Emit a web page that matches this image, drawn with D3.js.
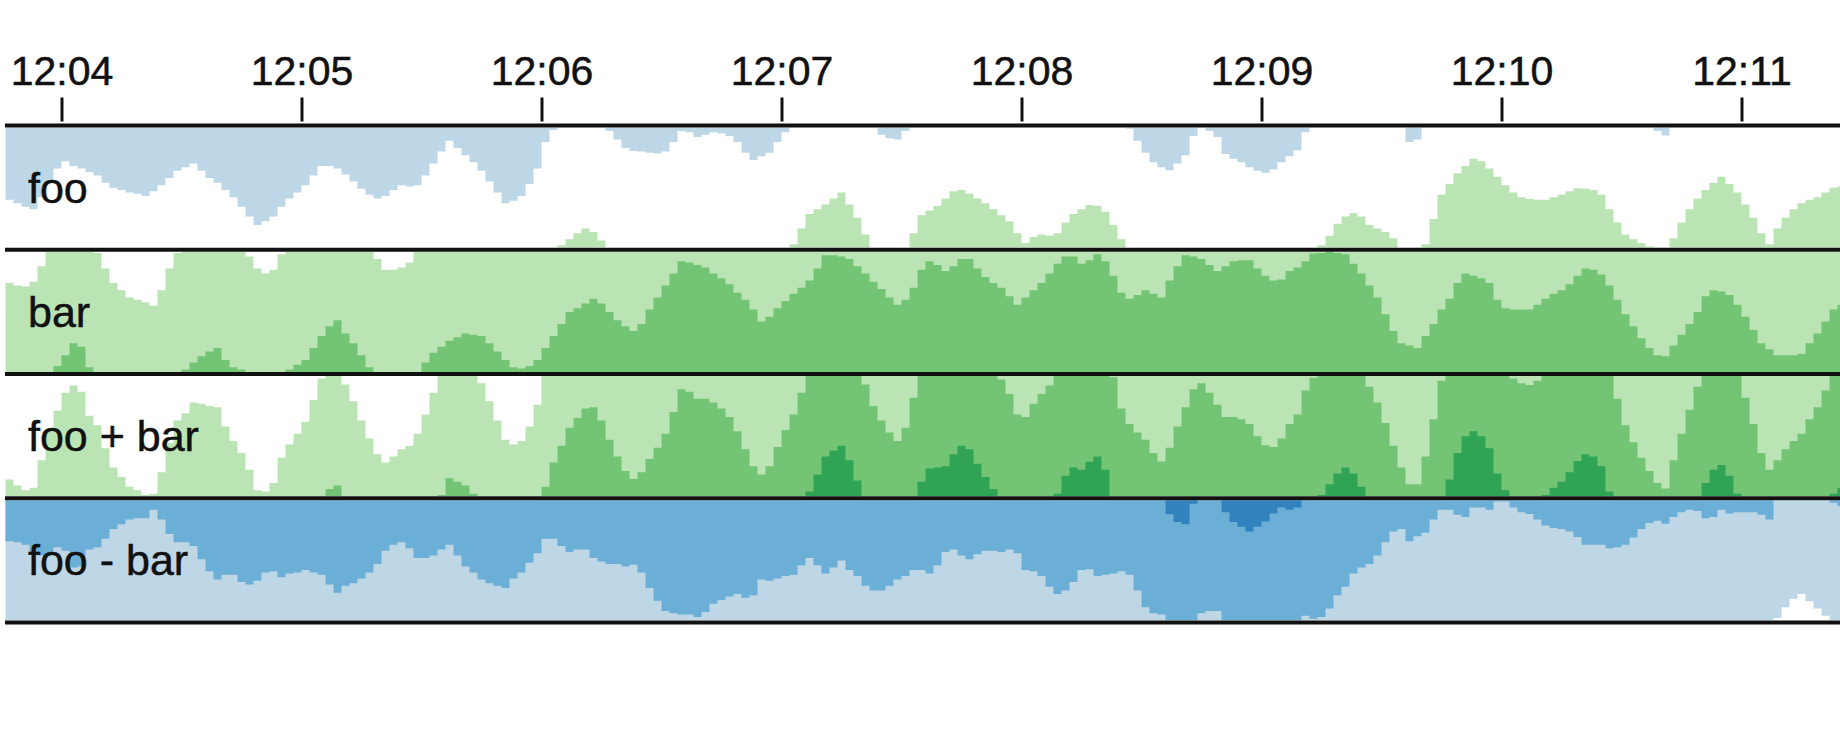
<!DOCTYPE html>
<html><head><meta charset="utf-8">
<script src="https://cdn.jsdelivr.net/npm/d3@7"></script>
<style>
html,body{margin:0;padding:0;background:#fff;}
svg{display:block;}
text{font-family:"Liberation Sans", Arial, Helvetica, sans-serif;}
</style></head><body>
<svg id="chart" width="1840" height="740"></svg>
<script>
// ---- data ----
const startTime = "12:03:46";
const stepSeconds = 2;
const foo = [
 -3.0,-3.15,-3.3,-3.4,-2.9,-2.3,-1.7,-1.4,-1.6,-1.7,
 -1.85,-2.0,-2.3,-2.5,-2.6,-2.7,-2.75,-2.85,-2.65,-2.4,
 -2.1,-1.8,-1.65,-1.5,-1.8,-2.1,-2.3,-2.6,-2.9,-3.3,
 -3.7,-4.05,-3.9,-3.7,-3.3,-2.95,-2.7,-2.4,-2.0,-1.6,
 -1.6,-1.7,-1.95,-2.25,-2.55,-2.8,-2.95,-2.85,-2.6,-2.4,
 -2.45,-2.4,-2.0,-1.5,-1.0,-0.55,-0.85,-1.15,-1.45,-1.8,
 -2.25,-2.7,-3.15,-3.05,-2.85,-2.35,-1.7,-0.6,-0.1,0.1,
 0.35,0.6,0.8,0.65,0.3,-0.15,-0.5,-0.85,-0.98,-1.0,
 -1.05,-1.08,-1.0,-0.6,-0.15,-0.2,-0.4,-0.3,-0.2,-0.25,
 -0.35,-0.6,-1.05,-1.35,-1.2,-1.05,-0.6,-0.2,0.15,0.8,
 1.4,1.6,1.8,2.05,2.3,1.8,1.25,0.55,0.0,-0.3,
 -0.45,-0.5,-0.15,0.6,1.35,1.55,1.75,2.05,2.35,2.4,
 2.25,2.05,1.85,1.6,1.35,1.1,0.6,0.2,0.45,0.55,
 0.5,0.6,1.05,1.4,1.6,1.78,1.75,1.5,0.95,0.35,
 -0.05,-0.55,-1.05,-1.45,-1.65,-1.78,-1.5,-1.15,-0.35,0,
 -0.15,-0.4,-1.1,-1.3,-1.45,-1.65,-1.8,-1.88,-1.75,-1.45,
 -1.2,-0.95,-0.2,0,0.1,0.5,1.0,1.3,1.45,1.3,
 0.95,0.8,0.65,0.4,0,-0.6,-0.5,0.15,1.2,2.2,
 2.65,3.1,3.4,3.7,3.6,3.3,2.95,2.6,2.3,2.1,
 2.03,2.0,2.0,2.1,2.2,2.35,2.47,2.45,2.4,2.2,
 1.6,1.05,0.55,0.35,0.2,0.05,-0.15,-0.33,0.4,1.05,
 1.6,2.05,2.4,2.7,2.95,2.65,2.3,1.8,1.25,0.6,
 0.15,0.8,1.25,1.6,1.85,2.0,2.1,2.3,2.5,2.55
];
const bar = [
 3.7,3.6,3.55,3.75,4.4,5.0,5.25,5.7,6.2,6.05,
 5.2,4.95,4.3,3.7,3.4,3.1,3.0,2.9,2.75,3.4,
 4.3,4.95,5.1,5.4,5.65,5.85,6.0,5.5,5.2,5.1,
 4.8,4.3,4.1,4.25,4.9,5.1,5.3,5.5,6.0,6.5,
 6.9,7.15,6.6,6.2,5.7,5.2,4.7,4.25,4.25,4.35,
 4.55,5.0,5.4,5.8,6.05,6.3,6.45,6.6,6.55,6.5,
 6.2,5.85,5.5,5.2,5.15,5.25,5.5,6.0,6.5,7.0,
 7.5,7.65,7.85,8.05,7.85,7.5,7.15,6.9,6.7,7.0,
 7.6,8.1,8.6,9.1,9.6,9.55,9.45,9.35,9.1,8.9,
 8.65,8.3,8.0,7.6,7.1,7.3,7.65,7.95,8.25,8.5,
 8.8,9.3,9.85,9.85,9.8,9.7,9.4,9.1,8.75,8.45,
 8.1,7.8,8.0,8.5,9.25,9.6,9.45,9.2,9.4,9.7,
 9.7,9.3,8.95,8.7,8.5,8.15,7.8,8.1,8.4,8.7,
 9.1,9.5,9.8,9.8,9.5,9.65,9.9,9.6,9.0,8.3,
 8.05,8.2,8.4,8.25,8.1,8.8,9.4,9.85,9.8,9.7,
 9.45,9.2,9.4,9.6,9.65,9.65,9.3,9.0,8.8,8.85,
 9.2,9.35,9.6,9.93,9.95,10.0,9.95,9.9,9.5,9.1,
 8.6,8.1,7.4,6.7,6.2,6.1,6.0,6.5,7.0,7.6,
 8.05,8.7,9.1,9.0,8.9,8.7,8.0,7.65,7.6,7.6,
 7.6,7.8,8.05,8.25,8.4,8.65,9.0,9.3,9.25,9.05,
 8.6,8.0,7.4,6.9,6.4,6.0,5.7,5.65,6.1,6.55,
 7.0,7.5,8.15,8.4,8.35,8.2,7.8,7.3,6.75,6.2,
 5.95,5.7,5.7,5.7,5.75,6.2,6.6,7.1,7.6,7.8
];
const rowLabels = ["foo", "bar", "foo + bar", "foo - bar"];
const extent = [-20, 20];
const negColors = ["#bdd7e7", "#6baed6", "#3182bd", "#08519c"];
const posColors = ["#bae4b3", "#74c476", "#31a354", "#006d2c"];

// ---- derived ----
const series = [
  foo,
  bar,
  foo.map((v, i) => v + bar[i]),
  foo.map((v, i) => v - bar[i])
];

const parse = d3.timeParse("%H:%M:%S");
const t0 = parse(startTime);
const n = foo.length;
const times = d3.range(n + 1).map(i => d3.timeSecond.offset(t0, i * stepSeconds));

const W = 1840, left = 5.5, pxPerSec = 4;
const x = d3.scaleTime().domain([t0, times[n]]).range([left, left + n * stepSeconds * pxPerSec]);

const firstLine = 125.5, rowPitch = 124.25, lineW = 4;
const lineY = i => firstLine + rowPitch * i;
const rowH = rowPitch - lineW;
const bands = negColors.length;
const bandSize = extent[1] / bands;
const y = d3.scaleLinear().domain([0, bandSize]).range([0, rowH]).clamp(true);

const svg = d3.select("#chart");

const defs = svg.append("defs");
series.forEach((vals, r) => {
  const top = lineY(r) + lineW / 2;
  const bottom = top + rowH;
  defs.append("clipPath").attr("id", "clip" + r)
    .append("rect").attr("x", 5).attr("y", top).attr("width", W - 5).attr("height", rowH);

  const pts = vals.map((v, i) => ({t: times[i], v}));
  pts.push({t: times[n], v: vals[n - 1]});

  const g = svg.append("g").attr("clip-path", `url(#clip${r})`);
  for (let b = 0; b < bands; b++) {
    const pos = d3.area().curve(d3.curveStepAfter)
      .x(d => x(d.t)).y0(bottom).y1(d => bottom - y(d.v - b * bandSize));
    const neg = d3.area().curve(d3.curveStepAfter)
      .x(d => x(d.t)).y0(top).y1(d => top + y(-d.v - b * bandSize));
    g.append("path").attr("d", pos(pts)).attr("fill", posColors[b]);
    g.append("path").attr("d", neg(pts)).attr("fill", negColors[b]);
  }

  svg.append("text")
    .attr("x", 28)
    .attr("y", (lineY(r) + lineY(r + 1)) / 2 + 15)
    .attr("font-size", 43)
    .attr("fill", "#111")
    .attr("stroke", "#111").attr("stroke-width", 0.5)
    .text(rowLabels[r]);
});

// row borders
svg.append("g").selectAll("line").data(d3.range(series.length + 1)).join("line")
  .attr("x1", 5).attr("x2", W)
  .attr("y1", d => lineY(d)).attr("y2", d => lineY(d))
  .attr("stroke", "#111").attr("stroke-width", lineW);

// axis
const axis = d3.axisTop(x)
  .ticks(d3.timeMinute.every(1))
  .tickFormat(d3.timeFormat("%H:%M"))
  .tickSize(24).tickPadding(13);
const ag = svg.append("g").attr("transform", `translate(0,${lineY(0) - 4})`).call(axis);
ag.select(".domain").remove();
ag.selectAll(".tick line").attr("stroke", "#111").attr("stroke-width", 3);
ag.selectAll(".tick text").attr("font-size", 41).attr("fill", "#111")
  .attr("stroke", "#111").attr("stroke-width", 0.5)
  .attr("font-family", '"Liberation Sans", Arial, sans-serif');
</script>
</body></html>
